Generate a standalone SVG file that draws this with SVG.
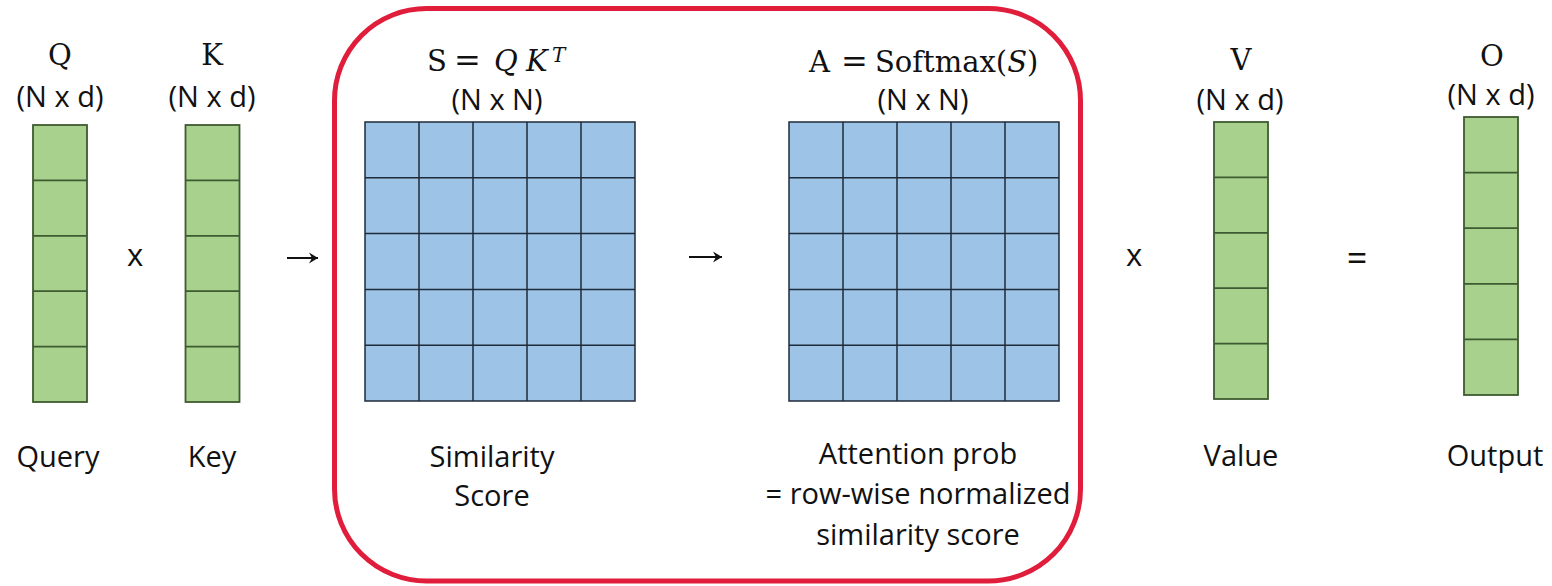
<svg xmlns="http://www.w3.org/2000/svg" width="1552" height="586" viewBox="0 0 1552 586">
<style>
.sans{font-family:"Open Sans","Noto Sans",sans-serif;font-size:29px;fill:#111;text-anchor:middle}
.serif{font-family:"DejaVu Serif","Liberation Serif",serif;font-size:29px;fill:#111}
.mid{text-anchor:middle}
.it{font-style:italic}
.eq{font-size:32px}
.g{fill:#A9D18E;stroke:#3E5A30;stroke-width:1.8}
.gl{stroke:#3E5A30;stroke-width:1.8}
.b{fill:#9DC3E6;stroke:#1F2B38;stroke-width:1.5}
.bl{stroke:#1F2B38;stroke-width:1.5}
.op{font-family:"Open Sans","Noto Sans",sans-serif;font-size:31px;fill:#111;text-anchor:middle}
.arrow{stroke:#111;stroke-width:2;fill:none}
</style>
<defs>
<marker id="ah" viewBox="-10 -6 11 12" markerWidth="11" markerHeight="12" refX="0" refY="0" orient="auto" markerUnits="userSpaceOnUse">
<path d="M0,0 L-9,-5.5 L-6,0 L-9,5.5 Z" fill="#111"/>
</marker>
</defs>
<rect width="1552" height="586" fill="#fff"/>

<g id="highlight-box">
<rect x="334.5" y="8.5" width="746" height="572.5" rx="92" ry="92" fill="none" stroke="#E01E3C" stroke-width="5"/>
</g>

<g id="node-Q">
<text class="serif mid" x="60" y="65">Q</text>
<text class="sans" x="60" y="107">(N x d)</text>
<rect class="g" x="33" y="125" width="54" height="277"/>
<path class="gl" d="M33,180.4H87M33,235.8H87M33,291.2H87M33,346.6H87"/>
<text class="sans" x="58" y="467">Query</text>
</g>

<g id="node-K">
<text class="serif mid" x="212" y="65">K</text>
<text class="sans" x="212" y="107">(N x d)</text>
<rect class="g" x="185.5" y="125" width="54" height="277"/>
<path class="gl" d="M185.5,180.4H239.5M185.5,235.8H239.5M185.5,291.2H239.5M185.5,346.6H239.5"/>
<text class="sans" x="212" y="467">Key</text>
</g>

<g id="node-S">
<text class="serif" y="71"><tspan x="427">S</tspan><tspan x="454" class="eq">=</tspan><tspan x="494" class="it">Q</tspan><tspan x="526" class="it">K</tspan><tspan x="552" y="62" class="it" style="font-size:20px">T</tspan></text>
<text class="sans" x="497" y="110">(N x N)</text>
<rect class="b" x="365" y="122" width="270" height="279"/>
<path class="bl" d="M419,122V401M473,122V401M527,122V401M581,122V401M365,177.8H635M365,233.6H635M365,289.4H635M365,345.2H635"/>
<text class="sans" x="492" y="467">Similarity</text>
<text class="sans" x="492" y="506">Score</text>
</g>

<g id="node-A">
<text class="serif" y="72"><tspan x="809">A</tspan><tspan x="841" class="eq">=</tspan><tspan x="875">Softmax(</tspan><tspan class="it">S</tspan><tspan>)</tspan></text>
<text class="sans" x="923" y="110">(N x N)</text>
<rect class="b" x="789" y="122" width="270" height="279"/>
<path class="bl" d="M843,122V401M897,122V401M951,122V401M1005,122V401M789,177.8H1059M789,233.6H1059M789,289.4H1059M789,345.2H1059"/>
<text class="sans" x="918" y="464">Attention prob</text>
<text class="sans" x="918" y="504">= row-wise normalized</text>
<text class="sans" x="918" y="545">similarity score</text>
</g>

<g id="node-V">
<text class="serif mid" x="1241" y="70">V</text>
<text class="sans" x="1240" y="110">(N x d)</text>
<rect class="g" x="1214" y="122" width="54" height="277"/>
<path class="gl" d="M1214,177.4H1268M1214,232.8H1268M1214,288.2H1268M1214,343.6H1268"/>
<text class="sans" x="1241" y="466">Value</text>
</g>

<g id="node-O">
<text class="serif mid" x="1492" y="66">O</text>
<text class="sans" x="1491" y="105">(N x d)</text>
<rect class="g" x="1464" y="117" width="54" height="278"/>
<path class="gl" d="M1464,172.6H1518M1464,228.2H1518M1464,283.8H1518M1464,339.4H1518"/>
<text class="sans" x="1495" y="466">Output</text>
</g>

<g id="operators">
<text class="op" x="135" y="266">x</text>
<text class="op" x="1134" y="266">x</text>
<text class="op" x="1357" y="271" style="font-size:36px">=</text>
</g>

<g id="connectors">
<line class="arrow" x1="287" y1="258" x2="318" y2="258" marker-end="url(#ah)"/>
<line class="arrow" x1="689" y1="257" x2="722" y2="257" marker-end="url(#ah)"/>
</g>
</svg>
